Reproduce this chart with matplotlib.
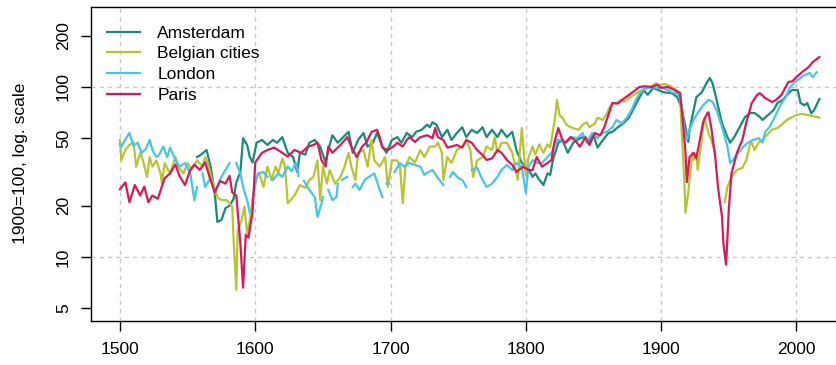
import numpy as np
import matplotlib
matplotlib.use("Agg")
import matplotlib.pyplot as plt

nan = np.nan

# house price indices, 1900=100
ams_years = [1557, 1560, 1564, 1567, 1570, 1572, 1575, 1578, 1581, 1584, 1586, 1589, 1591, 1594,
             1596, 1598, 1601, 1605, 1609, 1613, 1616, 1620, 1624, 1628, 1631, 1633, 1637, 1640,
             1644, 1648, 1652, 1654, 1657, 1661, 1665, 1669, 1672, 1676, 1680, 1683, 1687, 1690,
             1694, 1697, 1701, 1705, 1708, 1712, 1716, 1719, 1723, 1727, 1729, 1731, 1734, 1738,
             1742, 1745, 1749, 1753, 1756, 1760, 1764, 1768, 1771, 1775, 1779, 1782, 1786, 1790,
             1793, 1797, 1801, 1805, 1807, 1810, 1813, 1816, 1818, 1820, 1824, 1827, 1831, 1835,
             1838, 1842, 1846, 1850, 1853, 1857, 1861, 1864, 1868, 1872, 1876, 1879, 1883, 1887,
             1890, 1894, 1898, 1902, 1908, 1912, 1915, 1918, 1920, 1921, 1924, 1926, 1930, 1934,
             1936, 1938, 1941, 1945, 1949, 1951, 1954, 1958, 1962, 1966, 1969, 1973, 1975, 1979,
             1983, 1986, 1990, 1994, 1997, 2001, 2003, 2006, 2008, 2011, 2013, 2017]
ams_vals = [38.7, 40, 42.6, 34, 24, 16.1, 16.5, 19.4, 20, 22, 27.5, 31.6, 50, 45.6,
            38.7, 36, 47, 48.8, 45.6, 48.8, 47, 50.7, 41, 38.7, 31.6, 41, 40, 47,
            48.8, 44.6, 36, 42.6, 52, 47, 50.7, 54.5, 41, 48.8, 53.6, 44.6, 47, 53.6,
            44.6, 41, 48.8, 50.7, 47, 53.6, 50.7, 54.5, 56, 60, 58, 62, 60, 50.7,
            56, 48.8, 53.6, 58, 50.7, 56, 53.6, 58, 50.7, 56, 50.7, 56, 50.7, 54.5,
            42.6, 35.7, 34, 29.6, 31, 28.4, 26.5, 31, 30.4, 37.2, 47, 48.8, 41, 47,
            48.8, 50.7, 47.5, 52, 44, 48.8, 53.6, 54.5, 58, 61, 65.7, 73, 84, 96,
            90, 98.6, 96, 93, 92, 87, 76, 58, 47.5, 56, 73, 87, 93, 107,
            113, 105, 84, 61, 50.7, 47, 50.7, 58, 66.6, 70.3, 70.3, 66.6, 64, 68.4,
            73, 80.5, 84, 92, 96, 96, 80.5, 78, 80.5, 70, 73, 85]

bel_years = [1500, 1501, 1504, 1507, 1510, 1512, 1515, 1517, 1520, 1522, 1524, 1527, 1530, 1531,
             1533, 1537, 1541, 1543, 1547, 1550, 1553, 1557, 1561, 1563, 1565, 1568, 1572, 1575,
             1579, 1583, 1584, 1586, 1587, 1590, 1592, 1594, 1596, 1598, 1601, 1603, 1606, 1609,
             1612, 1615, 1617, 1620, 1622, 1624, 1629, 1633, 1637, 1640, 1643, 1646, 1648, 1650,
             1653, 1655, 1659, 1663, 1666, 1669, 1671, 1674, 1676, 1680, 1683, 1686, 1688, 1692,
             1696, 1698, 1701, 1705, 1707, 1709, 1711, 1714, 1718, 1722, 1725, 1729, 1733, 1735,
             1738, 1739, 1742, 1745, 1749, 1753, 1756, 1759, 1761, 1764, 1768, 1771, 1775, 1777,
             1779, 1782, 1786, 1790, 1792, 1794, 1797, 1800, 1802, 1805, 1807, 1810, 1813, 1816,
             1818, 1820, 1822, 1823, 1825, 1827, 1830, 1833, 1836, 1839, 1842, 1845, 1847, 1851,
             1853, 1857, 1860, 1862, 1864, 1867, 1870, 1873, 1877, 1882, 1886, 1889, 1892, 1896,
             1899, 1903, 1907, 1911, 1914, 1915, 1917, 1918, 1920, 1923, 1924, 1926, 1927, 1930,
             1932, 1935, 1937, 1940, 1941, 1947, 1949, 1952, 1956, 1960, 1963, 1966, 1967, 1969,
             1972, 1975, 1978, 1982, 1986, 1989, 1993, 1997, 2000, 2004, 2008, 2012, 2017]
bel_vals = [48.8, 37, 42.6, 45.6, 47.5, 34, 41, 37, 29.6, 38.7, 34, 37, 31, 27,
            35.7, 31, 38.7, 34, 31, 35.7, 32.5, 37, 34, 38.7, 35.7, 28.4, 22.5, 21.6,
            21.6, 19.8, 12.6, 6.4, 14.4, 16.5, 19.8, 13.8, 16.5, 21.6, 29.6, 31, 25.8, 34,
            28.4, 34, 31, 38, 34, 20.7, 23, 26.5, 25.5, 28.4, 29.6, 37, 21.6, 34,
            27, 32.5, 27, 29.6, 34, 41, 34, 28.4, 41, 42.6, 34, 48.8, 37, 34,
            38.7, 25.8, 37, 37, 34, 20.7, 34, 38.7, 36, 42.6, 38.7, 44.6, 44.6, 47,
            41, 28.4, 38.7, 35.7, 42.6, 44.6, 48.8, 42.6, 29.6, 37, 38.7, 44.6, 42.6, 50.7,
            41, 47, 47, 41, 34, 28.4, 57.4, 30, 38.7, 44.6, 40, 46, 41, 46,
            44, 55, 70, 84, 68, 66, 60, 58, 57, 56, 60, 62, 58, 61,
            66, 64, 70, 76, 80, 80, 84, 82, 87, 92, 96, 98, 100, 105,
            103, 104, 101, 96, 92, 58, 29.6, 18.2, 23.8, 41, 37.2, 41, 32.5, 48.8,
            66, 53.6, 48.8, 41, nan, 21, 25.8, 29.6, 32.5, 33.4, 37.2, 47, 47, 42.6,
            47, 48.8, 52, 56, 57.4, 60, 64, 66.6, 68.4, 69.4, 68.4, 67.5, 66]

lon_years = [1500, 1501, 1505, 1507, 1510, 1513, 1516, 1519, 1522, 1524, 1527, 1529, 1532, 1535,
             1537, 1541, 1544, 1548, 1552, 1555, 1557, 1559, 1561, 1563, 1566, 1568, 1570, 1572,
             1575, 1578, 1581, 1583, 1586, 1589, 1591, 1594, 1596, 1597, 1598, 1600, 1602, 1606,
             1609, 1611, 1613, 1617, 1620, 1624, 1627, 1630, 1632, 1634, 1636, 1640, 1644, 1646,
             1649, 1650, 1652, 1654, 1657, 1660, 1661, 1662, 1664, 1668, 1670, 1672, 1674, 1677,
             1681, 1684, 1688, 1692, 1694, 1695, 1697, 1699, 1700, 1703, 1707, 1710, 1714, 1718,
             1722, 1725, 1728, 1731, 1735, 1739, 1741, 1744, 1746, 1750, 1753, 1756, 1758, 1760,
             1764, 1768, 1771, 1775, 1779, 1782, 1786, 1790, 1793, 1797, 1800, 1802, 1805, 1808,
             1812, 1816, 1819, 1823, 1826, 1830, 1834, 1838, 1842, 1845, 1849, 1853, 1856, 1860,
             1864, 1867, 1871, 1875, 1878, 1882, 1886, 1890, 1893, 1897, 1901, 1905, 1908, 1912,
             1915, 1917, 1919, 1921, 1924, 1927, 1931, 1935, 1938, 1941, 1945, 1949, 1951, 1953,
             1957, 1961, 1964, 1968, 1972, 1975, 1977, 1980, 1984, 1988, 1992, 1995, 1999, 2003,
             2006, 2010, 2012, 2015]
lon_vals = [46, 44.6, 50.7, 53.6, 45, 47, 41, 43, 48.8, 42.6, 38.7, 40, 44.6, 38.7,
            44, 37.2, 34, 35.7, 31, 21.6, 25.8, nan, 31, 25.8, 28.4, nan, 23.8, 26,
            29.6, 32.5, 35.7, nan, 35.7, 31, 25.8, 21.6, 18.2, nan, 21.6, 27, 31, 31.6,
            29.6, nan, 28.4, 31, 29.6, 34, 32, 35.7, 30, nan, 28, 24.8, 22.5, 17.2,
            20.7, 22.5, nan, 24.8, 21.6, 22.5, 27, nan, 28.4, 29.6, nan, 25.8, 27, 24.8,
            28.4, 29.6, 31, 24.8, 22.5, nan, 27, 27, nan, 31.6, 35.7, 34, 35.7, 34.8,
            34, 30.4, 31.6, 32.5, 29.2, 26.5, nan, 29.6, 31.6, 29.2, 28.4, 25.8, nan, 32.5,
            33.4, 28.4, 25.8, 27, 29.6, 32.5, 34.8, 32.5, 35.7, 34, 23.8, 34, 37.2, 35.7,
            35.7, 38.7, 41, 48.8, 48.8, 47, 50.7, 50, 53.6, 47, 53.6, 50, 53.6, 54.5,
            58, 64, 61, 66.6, 73, 86, 96, 98.6, 100, 98.6, 98.6, 96, 93, 92,
            80.5, 58, 48.8, 56, 64, 70.3, 78, 84, 81.6, 73, 58, 44.6, 35.7, 37.2,
            41, 44.6, 47, 48.8, 50, 47, 54.5, 58, 66.6, 78, 87, 98.6, 107, 113,
            117.6, 121, 114, 122]

par_years = [1500, 1504, 1507, 1511, 1515, 1518, 1521, 1524, 1528, 1533, 1537, 1541, 1544, 1548,
             1552, 1555, 1559, 1563, 1566, 1570, 1574, 1578, 1581, 1583, 1586, 1589, 1591, 1593,
             1595, 1598, 1600, 1605, 1609, 1614, 1620, 1624, 1629, 1634, 1639, 1643, 1646, 1649,
             1652, 1654, 1657, 1663, 1668, 1671, 1675, 1679, 1682, 1686, 1690, 1692, 1694, 1698,
             1702, 1705, 1709, 1712, 1714, 1718, 1722, 1727, 1731, 1733, 1735, 1739, 1742, 1745,
             1749, 1753, 1756, 1760, 1764, 1768, 1771, 1775, 1779, 1782, 1786, 1790, 1793, 1798,
             1802, 1805, 1808, 1812, 1816, 1819, 1821, 1824, 1827, 1829, 1833, 1836, 1840, 1844,
             1847, 1851, 1855, 1858, 1861, 1864, 1868, 1873, 1878, 1884, 1888, 1893, 1897, 1900,
             1905, 1910, 1914, 1916, 1918, 1919, 1921, 1924, 1926, 1929, 1931, 1934, 1935, 1937,
             1940, 1942, 1945, 1946, 1948, 1950, 1952, 1956, 1960, 1963, 1967, 1971, 1973, 1977,
             1982, 1985, 1989, 1994, 1997, 2000, 2004, 2009, 2012, 2017]
par_vals = [25, 27.5, 21, 26.5, 23, 26, 21, 23, 22, 29, 31, 35, 30, 26.5,
            32.5, 35, 32.5, 36, 30, 24, 28, 27, 30, 24, 23, 12, 6.6, 13.5,
            13, 18.4, 36, 41, 42.6, 44, 41, 39, 42.6, 41, 44.6, 45.6, 47, 37,
            34, 44.6, 41, 45.6, 50.7, 44.6, 38.7, 44.6, 47, 54.5, 56, 50.7, 44, 42.6,
            44.6, 47, 44.6, 48.8, 50.7, 47.5, 50.7, 52, 50, 57.4, 50.7, 48.8, 44, 44.6,
            45.6, 44, 48.8, 47, 42.6, 39.8, 37.2, 38, 42.6, 41, 37.2, 34.8, 31.6, 34,
            32.5, 32.5, 38.7, 34, 35.7, 37.2, 47, 57.4, 48.8, 47, 50.7, 48.8, 44.6, 50.7,
            45.6, 53.6, 52, 58, 68.5, 80.5, 80, 86, 92, 100, 101, 100, 103, 99,
            100, 96, 92, 64, 41, 27.6, 38.7, 41, 38, 50.7, 62, 70, 71, 58,
            38.7, 25.8, 17.2, 12, 9, 19, 31, 41, 48.8, 62, 80.5, 90, 92, 86,
            81.6, 84, 90, 107, 108, 114.5, 122, 131, 140, 150]

series = [
    ("Amsterdam", ams_years, ams_vals, "#1b8a77"),
    ("Belgian cities", bel_years, bel_vals, "#b7c434"),
    ("London", lon_years, lon_vals, "#48c4e8"),
    ("Paris", par_years, par_vals, "#d61a5a"),
]

plt.rcParams['font.family'] = ['Liberation Sans', 'DejaVu Sans']
fs = 12.5

fig = plt.figure(figsize=(8.37, 3.65), dpi=100)
ax = fig.add_axes([91 / 837, 44.5 / 365, 749 / 837, 313.5 / 365])

for name, yrs, vals, col in series:
    ax.plot(yrs, vals, color=col, lw=1.6, label=name, solid_joinstyle='round')

ax.set_yscale('log')
ax.set_xlim(1478.6, 2032.2)
ax.set_ylim(4.23, 295.5)

ax.set_xticks([1500, 1600, 1700, 1800, 1900, 2000])
ax.set_yticks([5, 10, 20, 50, 100, 200])
ax.set_yticklabels(['5', '10', '20', '50', '100', '200'], rotation=90, va='center')
ax.minorticks_off()

# grid only at the round values
for x in [1500, 1600, 1700, 1800, 1900, 2000]:
    ax.axvline(x, color='#c8c8c8', lw=1, ls=(0, (3, 3)), zorder=0)
for y in [10, 100]:
    ax.axhline(y, color='#c8c8c8', lw=1, ls=(0, (3, 3)), zorder=0)

ax.tick_params(direction='out', length=7, width=1, labelsize=fs, colors='black')
ax.tick_params(axis='x', pad=8.5)
ax.tick_params(axis='y', pad=7.5)
for s in ax.spines.values():
    s.set_linewidth(1)

ax.set_ylabel("1900=100, log. scale", fontsize=fs)
ax.yaxis.set_label_coords(-63 / 749, 0.5)

ax.legend(loc='upper left', bbox_to_anchor=(16 / 749, 1 - 18.5 / 313.5), frameon=False,
          fontsize=fs, handlelength=1.9, handletextpad=1.0, labelspacing=0.32,
          borderaxespad=0, borderpad=0)

fig.savefig("out.png", dpi=100)
